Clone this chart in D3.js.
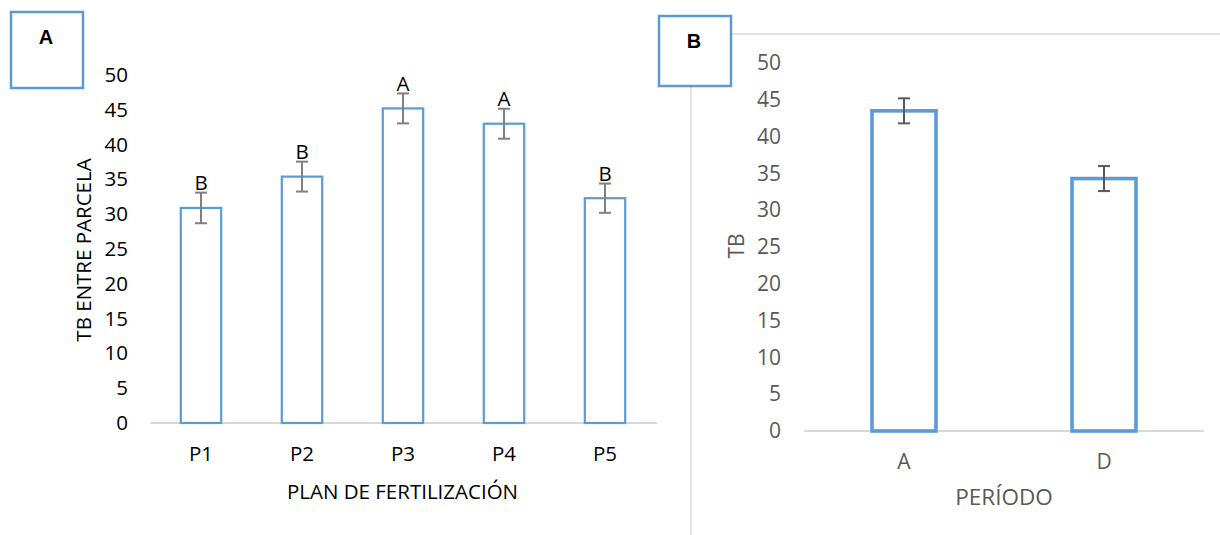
<!DOCTYPE html>
<html>
<head>
<meta charset="utf-8">
<script src="https://cdn.jsdelivr.net/npm/d3@7"></script>
<style>
  body { margin: 0; background: #fff; }
  svg text { font-family: "Open Sans", "Noto Sans", sans-serif; }
</style>
</head>
<body>
<div id="chart"></div>
<script>
// data
var catsA = ["P1", "P2", "P3", "P4", "P5"];
var meansA = [30.9, 35.4, 45.2, 43.0, 32.3];
var errA = [2.2, 2.15, 2.15, 2.15, 2.1];
var lettersA = ["B", "B", "A", "A", "B"];

var catsB = ["A", "D"];
var meansB = [43.5, 34.3];
var errB = [1.7, 1.7];

var yTicks = [0, 5, 10, 15, 20, 25, 30, 35, 40, 45, 50];

var blue = "#5b9bd5";
var fsA = "20.5px", fsB = "21px";

var svg = d3.select("#chart")
    .append("svg")
    .attr("width", 1220)
    .attr("height", 535);

// ---------- panel A ----------
var xA = d3.scaleBand().domain(catsA).range([150.5, 655.5]);
var yA = d3.scaleLinear().domain([0, 50]).range([423, 75]);
var bwA = xA.bandwidth() * 0.4;

var gA = svg.append("g");

// y tick labels
var axA = gA.append("g")
    .attr("transform", "translate(128,0)")
    .call(d3.axisLeft(yA).tickValues(yTicks).tickSize(0).tickPadding(0));
axA.select(".domain").remove();
axA.selectAll("text")
    .style("font-family", "Open Sans")
    .style("font-size", fsA)
    .attr("fill", "#000");

// baseline
gA.append("line")
    .attr("x1", 150.5).attr("x2", 657)
    .attr("y1", yA(0)).attr("y2", yA(0))
    .attr("stroke", "#d9d9d9").attr("stroke-width", 2);

// bars
gA.selectAll(".barA")
    .data(catsA)
    .enter()
    .append("rect")
    .attr("class", "barA")
    .attr("x", function (d) { return xA(d) + (xA.bandwidth() - bwA) / 2; })
    .attr("y", function (d, i) { return yA(meansA[i]); })
    .attr("width", bwA)
    .attr("height", function (d, i) { return yA(0) - yA(meansA[i]); })
    .attr("fill", "none")
    .attr("stroke", blue)
    .attr("stroke-width", 2.2);

// error bars
var ebA = gA.selectAll(".errA")
    .data(catsA)
    .enter()
    .append("g")
    .attr("class", "errA")
    .attr("stroke", "#808080")
    .attr("stroke-width", 2);
ebA.append("line")
    .attr("x1", function (d) { return xA(d) + xA.bandwidth() / 2; })
    .attr("x2", function (d) { return xA(d) + xA.bandwidth() / 2; })
    .attr("y1", function (d, i) { return yA(meansA[i] + errA[i]); })
    .attr("y2", function (d, i) { return yA(meansA[i] - errA[i]); });
[1, -1].forEach(function (s) {
    ebA.append("line")
        .attr("x1", function (d) { return xA(d) + xA.bandwidth() / 2 - 6; })
        .attr("x2", function (d) { return xA(d) + xA.bandwidth() / 2 + 6; })
        .attr("y1", function (d, i) { return yA(meansA[i] + s * errA[i]); })
        .attr("y2", function (d, i) { return yA(meansA[i] + s * errA[i]); });
});

// significance letters
gA.selectAll(".letA")
    .data(catsA)
    .enter()
    .append("text")
    .attr("x", function (d) { return xA(d) + xA.bandwidth() / 2; })
    .attr("y", function (d, i) { return yA(meansA[i] + errA[i]) - 10; })
    .attr("dy", "0.35em")
    .attr("text-anchor", "middle")
    .style("font-size", fsA)
    .attr("fill", "#000")
    .text(function (d, i) { return lettersA[i]; });

// category labels
gA.selectAll(".catA")
    .data(catsA)
    .enter()
    .append("text")
    .attr("x", function (d) { return xA(d) + xA.bandwidth() / 2; })
    .attr("y", 454)
    .attr("dy", "0.35em")
    .attr("text-anchor", "middle")
    .style("font-size", fsA)
    .attr("fill", "#000")
    .text(function (d) { return d; });

gA.append("text")
    .attr("x", 402.5).attr("y", 492).attr("dy", "0.35em")
    .attr("text-anchor", "middle")
    .style("font-size", fsA)
    .attr("fill", "#000")
    .text("PLAN DE FERTILIZACIÓN");

gA.append("text")
    .attr("transform", "translate(84,250) rotate(-90)")
    .attr("dy", "0.35em")
    .attr("text-anchor", "middle")
    .style("font-size", fsA)
    .attr("fill", "#000")
    .text("TB ENTRE PARCELA");

// panel tag A
gA.append("rect")
    .attr("x", 11).attr("y", 12).attr("width", 72).attr("height", 76)
    .attr("fill", "#fff").attr("stroke", blue).attr("stroke-width", 2.5);
gA.append("text")
    .attr("x", 46).attr("y", 37).attr("dy", "0.35em")
    .attr("text-anchor", "middle")
    .style("font-family", "Liberation Sans")
    .style("font-weight", "bold")
    .style("font-size", "20px")
    .text("A");

// ---------- panel B ----------
var xB = d3.scaleBand().domain(catsB).range([804, 1204]);
var yB = d3.scaleLinear().domain([0, 50]).range([431, 63]);
var bwB = xB.bandwidth() * 0.32;

var gB = svg.append("g");

// chart area frame (partly visible)
gB.append("line")
    .attr("x1", 731).attr("x2", 1220).attr("y1", 34).attr("y2", 34)
    .attr("stroke", "#d9d9d9").attr("stroke-width", 1.5);
gB.append("line")
    .attr("x1", 691).attr("x2", 691).attr("y1", 86).attr("y2", 535)
    .attr("stroke", "#d9d9d9").attr("stroke-width", 1.5);

var axB = gB.append("g")
    .attr("transform", "translate(781,0)")
    .call(d3.axisLeft(yB).tickValues(yTicks).tickSize(0).tickPadding(0));
axB.select(".domain").remove();
axB.selectAll("text")
    .style("font-family", "Open Sans")
    .style("font-size", fsB)
    .attr("fill", "#595959");

gB.append("line")
    .attr("x1", 804).attr("x2", 1204)
    .attr("y1", yB(0)).attr("y2", yB(0))
    .attr("stroke", "#d9d9d9").attr("stroke-width", 2);

gB.selectAll(".barB")
    .data(catsB)
    .enter()
    .append("rect")
    .attr("class", "barB")
    .attr("x", function (d) { return xB(d) + (xB.bandwidth() - bwB) / 2; })
    .attr("y", function (d, i) { return yB(meansB[i]); })
    .attr("width", bwB)
    .attr("height", function (d, i) { return yB(0) - yB(meansB[i]); })
    .attr("fill", "none")
    .attr("stroke", blue)
    .attr("stroke-width", 3.6);

var ebB = gB.selectAll(".errB")
    .data(catsB)
    .enter()
    .append("g")
    .attr("class", "errB")
    .attr("stroke", "#595959")
    .attr("stroke-width", 2);
ebB.append("line")
    .attr("x1", function (d) { return xB(d) + xB.bandwidth() / 2; })
    .attr("x2", function (d) { return xB(d) + xB.bandwidth() / 2; })
    .attr("y1", function (d, i) { return yB(meansB[i] + errB[i]); })
    .attr("y2", function (d, i) { return yB(meansB[i] - errB[i]); });
[1, -1].forEach(function (s) {
    ebB.append("line")
        .attr("x1", function (d) { return xB(d) + xB.bandwidth() / 2 - 6; })
        .attr("x2", function (d) { return xB(d) + xB.bandwidth() / 2 + 6; })
        .attr("y1", function (d, i) { return yB(meansB[i] + s * errB[i]); })
        .attr("y2", function (d, i) { return yB(meansB[i] + s * errB[i]); });
});

gB.selectAll(".catB")
    .data(catsB)
    .enter()
    .append("text")
    .attr("x", function (d) { return xB(d) + xB.bandwidth() / 2; })
    .attr("y", 462)
    .attr("dy", "0.35em")
    .attr("text-anchor", "middle")
    .style("font-size", fsB)
    .attr("fill", "#595959")
    .text(function (d) { return d; });

gB.append("text")
    .attr("x", 1004).attr("y", 497).attr("dy", "0.35em")
    .attr("text-anchor", "middle")
    .style("font-size", "22.5px")
    .attr("fill", "#595959")
    .text("PERÍODO");

gB.append("text")
    .attr("transform", "translate(737,246) rotate(-90)")
    .attr("dy", "0.35em")
    .attr("text-anchor", "middle")
    .style("font-size", fsB)
    .attr("fill", "#595959")
    .text("TB");

gB.append("rect")
    .attr("x", 659).attr("y", 16).attr("width", 72).attr("height", 70)
    .attr("fill", "#fff").attr("stroke", blue).attr("stroke-width", 2.5);
gB.append("text")
    .attr("x", 694).attr("y", 41).attr("dy", "0.35em")
    .attr("text-anchor", "middle")
    .style("font-family", "Liberation Sans")
    .style("font-weight", "bold")
    .style("font-size", "20px")
    .text("B");
</script>
</body>
</html>
